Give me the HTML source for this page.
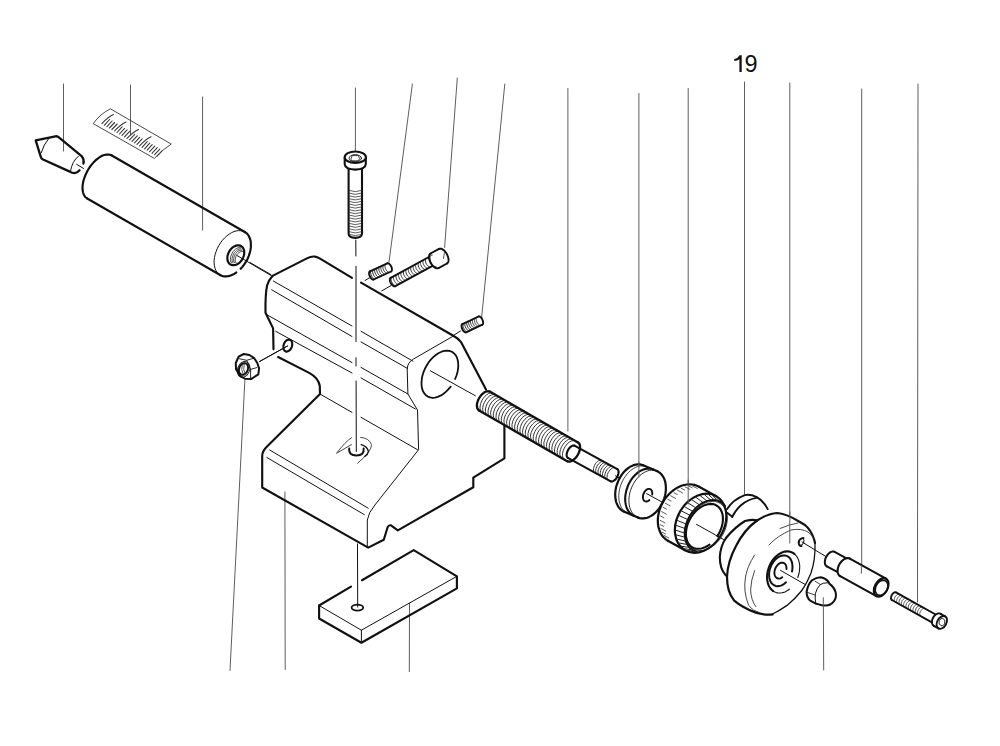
<!DOCTYPE html>
<html><head><meta charset="utf-8"><style>html,body{margin:0;padding:0;background:#fff;}svg{display:block}</style></head>
<body><svg width="1000" height="746" viewBox="0 0 1000 746" stroke-linecap="round" stroke-linejoin="round">
<rect width="1000" height="746" fill="#fff"/>
<line x1="63.5" y1="84" x2="63.5" y2="151" stroke="#5e5e5e" stroke-width="1.0"/>
<line x1="130.5" y1="85" x2="130.5" y2="135" stroke="#5e5e5e" stroke-width="1.0"/>
<line x1="202.6" y1="97" x2="202.6" y2="230" stroke="#5e5e5e" stroke-width="1.0"/>
<line x1="355.4" y1="88" x2="355.4" y2="152" stroke="#5e5e5e" stroke-width="1.0"/>
<line x1="412.4" y1="84" x2="389" y2="262" stroke="#5e5e5e" stroke-width="1.0"/>
<line x1="457.3" y1="78" x2="444.6" y2="247.5" stroke="#5e5e5e" stroke-width="1.0"/>
<line x1="504.8" y1="84" x2="481.6" y2="318" stroke="#5e5e5e" stroke-width="1.0"/>
<line x1="567.9" y1="88.5" x2="567.9" y2="431" stroke="#5e5e5e" stroke-width="1.0"/>
<line x1="638.9" y1="93.5" x2="638.9" y2="477" stroke="#5e5e5e" stroke-width="1.0"/>
<line x1="688.2" y1="88.5" x2="688.2" y2="504" stroke="#5e5e5e" stroke-width="1.0"/>
<line x1="744.5" y1="82" x2="744.5" y2="494" stroke="#5e5e5e" stroke-width="1.0"/>
<line x1="789.8" y1="83" x2="789.8" y2="542" stroke="#5e5e5e" stroke-width="1.0"/>
<line x1="861.7" y1="89" x2="861.7" y2="573" stroke="#5e5e5e" stroke-width="1.0"/>
<line x1="918" y1="84" x2="917.5" y2="602" stroke="#5e5e5e" stroke-width="1.0"/>
<line x1="244.9" y1="380" x2="230" y2="670.5" stroke="#5e5e5e" stroke-width="1.0"/>
<line x1="284.9" y1="492" x2="285.2" y2="669.5" stroke="#5e5e5e" stroke-width="1.0"/>
<line x1="409.5" y1="603" x2="409.3" y2="671.7" stroke="#5e5e5e" stroke-width="1.0"/>
<line x1="823.3" y1="597.7" x2="823.7" y2="670" stroke="#5e5e5e" stroke-width="1.0"/>
<text x="744.6" y="72" font-family="Liberation Sans, sans-serif" font-size="23.5" fill="#111">9</text>
<path d="M739.4,55.2 L741.7,55.2 L741.7,72 L739.4,72 L739.4,59.2 Q737.5,60.6 734.3,61 L734.3,58.9 Q738.2,58.2 739.4,55.2 Z" fill="#111" stroke="none"/>
<path d="M83.4,163.6 Q84.4,159.3 81.9,156.4 L59.5,137.8 Q57.5,136 55.4,136.3 L35.7,140.3 L40.8,156.8 Q41,158.3 42.5,159.2 L69.8,171.6 Q72,173 74.5,173.1 Q77.5,172.8 79.5,170.3" stroke="#111" stroke-width="2.3" fill="none" />
<path d="M48.9,138.3 Q43.5,144.5 41.2,152.8" stroke="#111" stroke-width="1.0" fill="none" />
<path d="M78.3,156.3 Q72,161.5 70.6,170.8" stroke="#111" stroke-width="1.0" fill="none" />
<line x1="76.7" y1="164.4" x2="83.5" y2="168.4" stroke="#111" stroke-width="1.0"/>
<path d="M93.4,123.3 Q100,114 110.4,108.8 L171.2,144.1 Q162,150 154.6,158.1 Z" stroke="#333" stroke-width="0.9" fill="none" />
<path d="M101.9,123.6 Q107.9,117.1 113.4,114.6" stroke="#3a3a3a" stroke-width="1.1" fill="none" />
<line x1="104.4" y1="125.1" x2="109.6" y2="119.5" stroke="#3a3a3a" stroke-width="1.1"/>
<line x1="106.9" y1="126.6" x2="112.1" y2="121" stroke="#3a3a3a" stroke-width="1.1"/>
<line x1="109.4" y1="128" x2="114.6" y2="122.5" stroke="#3a3a3a" stroke-width="1.1"/>
<line x1="111.9" y1="129.5" x2="117.1" y2="124" stroke="#3a3a3a" stroke-width="1.1"/>
<path d="M114.5,131.0 Q120.5,124.5 126.0,122.0" stroke="#3a3a3a" stroke-width="1.1" fill="none" />
<line x1="117" y1="132.5" x2="122.1" y2="126.9" stroke="#3a3a3a" stroke-width="1.1"/>
<line x1="119.5" y1="134" x2="124.6" y2="128.4" stroke="#3a3a3a" stroke-width="1.1"/>
<line x1="122" y1="135.4" x2="127.1" y2="129.9" stroke="#3a3a3a" stroke-width="1.1"/>
<line x1="124.5" y1="136.9" x2="129.7" y2="131.4" stroke="#3a3a3a" stroke-width="1.1"/>
<path d="M127.0,138.4 Q133.0,131.9 138.5,129.4" stroke="#3a3a3a" stroke-width="1.1" fill="none" />
<line x1="129.5" y1="139.9" x2="134.7" y2="134.3" stroke="#3a3a3a" stroke-width="1.1"/>
<line x1="132" y1="141.4" x2="137.2" y2="135.8" stroke="#3a3a3a" stroke-width="1.1"/>
<line x1="134.5" y1="142.8" x2="139.7" y2="137.3" stroke="#3a3a3a" stroke-width="1.1"/>
<line x1="137" y1="144.3" x2="142.2" y2="138.8" stroke="#3a3a3a" stroke-width="1.1"/>
<path d="M139.6,145.8 Q145.6,139.3 151.1,136.8" stroke="#3a3a3a" stroke-width="1.1" fill="none" />
<line x1="142.1" y1="147.3" x2="147.2" y2="141.7" stroke="#3a3a3a" stroke-width="1.1"/>
<line x1="144.6" y1="148.8" x2="149.7" y2="143.2" stroke="#3a3a3a" stroke-width="1.1"/>
<line x1="147.1" y1="150.2" x2="152.2" y2="144.7" stroke="#3a3a3a" stroke-width="1.1"/>
<line x1="149.6" y1="151.7" x2="154.8" y2="146.2" stroke="#3a3a3a" stroke-width="1.1"/>
<line x1="152.1" y1="153.2" x2="157.3" y2="147.7" stroke="#3a3a3a" stroke-width="1.1"/>
<line x1="154.6" y1="154.7" x2="159.8" y2="149.1" stroke="#3a3a3a" stroke-width="1.1"/>
<line x1="157.1" y1="156.2" x2="162.3" y2="150.6" stroke="#3a3a3a" stroke-width="1.1"/>
<line x1="111.8" y1="155.5" x2="244.8" y2="232" stroke="#111" stroke-width="2.15"/>
<line x1="87.2" y1="198.5" x2="220.2" y2="275" stroke="#111" stroke-width="2.15"/>
<path d="M111.8,155.5 L110.2,154.8 L108.4,154.5 L106.4,154.6 L104.3,155 L102.1,155.8 L99.9,157 L97.7,158.6 L95.5,160.4 L93.4,162.6 L91.4,164.9 L89.5,167.5 L87.8,170.3 L86.3,173.2 L85,176.1 L84,179 L83.2,181.9 L82.7,184.8 L82.5,187.5 L82.6,190 L83,192.3 L83.6,194.3 L84.6,196.1 L85.8,197.5 L87.2,198.5" stroke="#111" stroke-width="2.15" fill="none" />
<path d="M244.8,232 L246.4,233.1 L247.8,234.5 L248.9,236.2 L249.8,238.2 L250.5,240.3 L250.8,242.7 L250.9,245.3 L250.8,247.9 L250.3,250.7 L249.6,253.4 L248.7,256.2 L247.5,259 L246,261.6 L244.4,264.2 L242.6,266.6 L240.7,268.8" stroke="#111" stroke-width="2.15" fill="none" />
<path d="M236.3,272.5 L234.6,273.6 L232.9,274.6 L231.2,275.3 L229.4,275.9 L227.7,276.2 L226.1,276.4 L224.5,276.4 L223,276.1 L221.5,275.7 L220.2,275" stroke="#111" stroke-width="2.15" fill="none" />
<path d="M244.8,232 L242.9,231.1 L240.9,230.7 L238.6,230.6 L236.3,230.9 L233.9,231.6 L231.5,232.7 L229.1,234.2 L226.8,235.9 L224.5,238 L222.4,240.3 L220.5,242.9 L218.8,245.6 L217.3,248.5 L216.1,251.5 L215.1,254.5 L214.5,257.5 L214.1,260.4 L214.1,263.2 L214.4,265.8 L215,268.2 L215.9,270.4 L217,272.3 L218.5,273.8 L220.2,275" stroke="#111" stroke-width="1.0" fill="none" />
<path d="M241.1,246.1 L242.1,246.8 L242.9,247.7 L243.5,248.8 L244,250.1 L244.2,251.5 L244.2,253 L244.1,254.5 L243.7,256.1 L243.1,257.6 L242.4,259.1 L241.5,260.5 L240.4,261.8 L239.3,262.9 L238,263.8 L236.7,264.5 L235.4,265 L234.1,265.2 L232.8,265.2 L231.6,265 L230.5,264.5 L229.5,263.8 L228.7,262.9 L228.1,261.8 L227.6,260.5 L227.4,259.1 L227.4,257.6 L227.5,256.1 L227.9,254.5 L228.5,253 L229.2,251.5 L230.1,250.1 L231.2,248.8 L232.3,247.7 L233.6,246.8 L234.9,246.1 L236.2,245.6 L237.5,245.4 L238.8,245.4 L240,245.6 L241.1,246.1" stroke="#111" stroke-width="2.2" fill="none" />
<path d="M240.4,247.7 L239.3,247.6 L238,247.9 L236.7,248.4 L235.5,249.2 L234.2,250.3 L233.1,251.6 L232.2,253.1 L231.4,254.7 L230.8,256.3 L230.5,257.9 L230.4,259.4 L230.6,260.8 L231,262 L231.6,263" stroke="#333" stroke-width="0.9" fill="none" />
<path d="M241.1,249 L240.1,248.9 L238.9,249.1 L237.8,249.6 L236.6,250.4 L235.5,251.4 L234.5,252.6 L233.6,253.9 L232.9,255.3 L232.4,256.8 L232.1,258.3 L232,259.7 L232.1,260.9 L232.5,262 L233.1,262.9" stroke="#333" stroke-width="0.9" fill="none" />
<path d="M241.8,250.3 L240.9,250.2 L239.8,250.4 L238.8,250.8 L237.7,251.5 L236.7,252.4 L235.8,253.5 L235,254.7 L234.4,256 L233.9,257.3 L233.6,258.6 L233.6,259.9 L233.7,261 L234.1,262 L234.6,262.8" stroke="#333" stroke-width="0.9" fill="none" />
<path d="M242.5,251.5 L241.7,251.5 L240.8,251.7 L239.8,252.1 L238.9,252.7 L238,253.5 L237.2,254.4 L236.4,255.5 L235.9,256.7 L235.5,257.8 L235.2,259 L235.2,260.1 L235.3,261.2 L235.6,262 L236.1,262.7" stroke="#333" stroke-width="0.9" fill="none" />
<line x1="237" y1="255.5" x2="271" y2="275.5" stroke="#111" stroke-width="1.0"/>
<line x1="250" y1="262.5" x2="271" y2="274.6" stroke="#111" stroke-width="1.0"/>
<path d="M344.7,157.5 L344.7,164 Q344.9,169.2 355.3,169.6 Q365.6,169.2 365.8,164 L365.8,157.5" stroke="#111" stroke-width="2.1" fill="none" />
<ellipse cx="355.3" cy="157.2" rx="10.6" ry="5.7" transform="rotate(0 355.3 157.2)" stroke="#111" stroke-width="2.1" fill="#fff"/>
<ellipse cx="355.3" cy="158.2" rx="6.2" ry="3.6" transform="rotate(0 355.3 158.2)" stroke="#111" stroke-width="0.9" fill="none"/>
<polygon points="351,158.8 352.2,155.6 358.4,155.6 359.6,158.8 358.4,160.8 352.2,160.8" stroke="#111" stroke-width="0.8" fill="none" stroke-linejoin="round"/>
<path d="M348.6,169.4 L348.6,233.8 Q348.8,237.6 355.3,237.9 Q361.8,237.6 362,233.8 L362,169.4" stroke="#111" stroke-width="2.1" fill="none" />
<path d="M349.3,190.5 Q355.3,192.9 361.3,190.5" stroke="#333" stroke-width="0.8" fill="none" />
<path d="M349.3,193.2 Q355.3,195.7 361.3,193.2" stroke="#333" stroke-width="0.8" fill="none" />
<path d="M349.3,196.0 Q355.3,198.4 361.3,196.0" stroke="#333" stroke-width="0.8" fill="none" />
<path d="M349.3,198.8 Q355.3,201.2 361.3,198.8" stroke="#333" stroke-width="0.8" fill="none" />
<path d="M349.3,201.5 Q355.3,203.9 361.3,201.5" stroke="#333" stroke-width="0.8" fill="none" />
<path d="M349.3,204.2 Q355.3,206.7 361.3,204.2" stroke="#333" stroke-width="0.8" fill="none" />
<path d="M349.3,207.0 Q355.3,209.4 361.3,207.0" stroke="#333" stroke-width="0.8" fill="none" />
<path d="M349.3,209.8 Q355.3,212.2 361.3,209.8" stroke="#333" stroke-width="0.8" fill="none" />
<path d="M349.3,212.5 Q355.3,214.9 361.3,212.5" stroke="#333" stroke-width="0.8" fill="none" />
<path d="M349.3,215.2 Q355.3,217.7 361.3,215.2" stroke="#333" stroke-width="0.8" fill="none" />
<path d="M349.3,218.0 Q355.3,220.4 361.3,218.0" stroke="#333" stroke-width="0.8" fill="none" />
<path d="M349.3,220.8 Q355.3,223.2 361.3,220.8" stroke="#333" stroke-width="0.8" fill="none" />
<path d="M349.3,223.5 Q355.3,225.9 361.3,223.5" stroke="#333" stroke-width="0.8" fill="none" />
<path d="M349.3,226.2 Q355.3,228.7 361.3,226.2" stroke="#333" stroke-width="0.8" fill="none" />
<path d="M349.3,229.0 Q355.3,231.4 361.3,229.0" stroke="#333" stroke-width="0.8" fill="none" />
<path d="M349.3,231.8 Q355.3,234.2 361.3,231.8" stroke="#333" stroke-width="0.8" fill="none" />
<path d="M349.3,234.5 Q355.3,236.9 361.3,234.5" stroke="#333" stroke-width="0.8" fill="none" />
<line x1="355.8" y1="240" x2="355.9" y2="256" stroke="#111" stroke-width="1.0"/>
<line x1="356" y1="266.3" x2="356" y2="341.7" stroke="#111" stroke-width="1.0"/>
<line x1="356" y1="357.7" x2="356" y2="366" stroke="#111" stroke-width="1.0"/>
<line x1="356.1" y1="381" x2="356.3" y2="451.5" stroke="#111" stroke-width="1.0"/>
<line x1="357.5" y1="544" x2="357.7" y2="607" stroke="#111" stroke-width="1.0"/>
<path d="M272.5,275.9 L306.9,258.4 Q311,256.2 315,256.6 Q318,257.2 320.5,258.8 L352,277.8" stroke="#111" stroke-width="2.15" fill="none" />
<path d="M361,282.6 L452.9,335.5 Q458.5,338.5 461,342 L486,389.5" stroke="#111" stroke-width="2.15" fill="none" />
<path d="M272.5,275.9 Q268.5,280 267.1,285.5 Q265.2,294 265.5,312.7 L273.1,328.4 L273.5,349.3" stroke="#111" stroke-width="2.15" fill="none" />
<path d="M278.1,357 L309.2,372.9 Q318.6,378 319.8,386 L320,394 L267.5,446 Q262.2,451 262.2,456 L262.2,487.5 L368.2,547.6 L383.8,539.7 L387.6,527.2 Q388.8,524.8 391,525.4 L397.8,530.4 L473.3,487.2 L473.3,477.6 L504.4,458.3 L504.4,425.5" stroke="#111" stroke-width="2.15" fill="none" />
<path d="M452.9,336.3 L413.5,359 Q407.5,362.5 407.2,369 L407.9,394 L417.5,410 L418.6,449.7 L374.9,505 Q368.5,512.5 367.3,520 L367.3,545.7" stroke="#111" stroke-width="1.0" fill="none" />
<path d="M462,388 Q460,408 446,396.5" stroke="#111" stroke-width="0" fill="none" />
<path d="M450.7,386.6 L448.3,389.4 L445.8,391.9 L443.2,394 L440.5,395.7 L437.7,396.9 L435.1,397.6 L432.5,397.8 L430.1,397.4 L427.9,396.6 L425.9,395.2 L424.3,393.4 L423,391.2 L422.1,388.6 L421.6,385.7 L421.5,382.5 L421.8,379.2 L422.4,375.7 L423.5,372.2 L424.9,368.8 L426.7,365.5 L428.7,362.3 L431,359.4 L433.5,356.9 L436.1,354.7 L438.8,353 L441.6,351.7 L444.3,350.9 L446.9,350.6 L449.3,350.9 L451.6,351.6 L453.5,352.9 L455.2,354.6 L456.6,356.8 L457.5,359.3 L458.1,362.2 L458.3,365.3 L458.1,368.6 L457.5,372 L456.5,375.5 L455.1,379" stroke="#111" stroke-width="1.8" fill="none" />
<line x1="430.4" y1="370.8" x2="475.4" y2="395.8" stroke="#111" stroke-width="1.0"/>
<line x1="273.3" y1="281" x2="352" y2="326" stroke="#111" stroke-width="1.0"/>
<line x1="361" y1="331.3" x2="413" y2="361.2" stroke="#111" stroke-width="1.0"/>
<line x1="271.7" y1="289.8" x2="352" y2="336.5" stroke="#111" stroke-width="1.0"/>
<line x1="361" y1="341.9" x2="407.5" y2="368.5" stroke="#111" stroke-width="1.0"/>
<line x1="266.5" y1="314.5" x2="352" y2="362.6" stroke="#111" stroke-width="1.0"/>
<line x1="361" y1="367.4" x2="407.9" y2="394" stroke="#111" stroke-width="1.0"/>
<line x1="275.7" y1="331.3" x2="352" y2="373" stroke="#111" stroke-width="1.0"/>
<line x1="361" y1="377.9" x2="415.4" y2="409" stroke="#111" stroke-width="1.0"/>
<line x1="320" y1="394" x2="352" y2="412.4" stroke="#111" stroke-width="1.0"/>
<line x1="361" y1="417.3" x2="417.5" y2="449.7" stroke="#111" stroke-width="1.0"/>
<line x1="269.7" y1="450" x2="368.2" y2="508.2" stroke="#111" stroke-width="1.0"/>
<line x1="266.9" y1="457.5" x2="364.4" y2="514.7" stroke="#111" stroke-width="1.0"/>
<ellipse cx="287.8" cy="345.6" rx="4.2" ry="6.2" transform="rotate(20 287.8 345.6)" stroke="#111" stroke-width="2.15" fill="none"/>
<line x1="287.5" y1="346" x2="259.6" y2="361.5" stroke="#111" stroke-width="1.0"/>
<path d="M371.8,270.5 L371.3,270.7 L370.9,271.2 L370.6,271.9 L370.6,272.9 L370.8,273.9 L371.1,275 L371.6,276.1 L372.2,277 L372.9,277.9 L373.6,278.5 L374.3,278.8 L374.9,278.9" stroke="#333" stroke-width="1.0" fill="none" />
<path d="M373.8,269.6 L373.3,269.8 L372.9,270.3 L372.7,271 L372.7,271.9 L372.8,273 L373.1,274 L373.6,275.1 L374.2,276.1 L374.9,276.9 L375.6,277.5 L376.3,277.9 L376.9,277.9" stroke="#333" stroke-width="1.0" fill="none" />
<path d="M375.9,268.6 L375.3,268.8 L375,269.3 L374.7,270.1 L374.7,271 L374.8,272 L375.2,273.1 L375.7,274.2 L376.3,275.2 L376.9,276 L377.7,276.6 L378.4,276.9 L379,277" stroke="#333" stroke-width="1.0" fill="none" />
<path d="M377.9,267.7 L377.4,267.9 L377,268.4 L376.8,269.1 L376.7,270 L376.9,271.1 L377.2,272.2 L377.7,273.2 L378.3,274.2 L379,275 L379.7,275.6 L380.4,276 L381,276" stroke="#333" stroke-width="1.0" fill="none" />
<path d="M380,266.8 L379.4,267 L379,267.5 L378.8,268.2 L378.8,269.1 L378.9,270.1 L379.3,271.2 L379.7,272.3 L380.3,273.3 L381,274.1 L381.7,274.7 L382.4,275 L383.1,275.1" stroke="#333" stroke-width="1.0" fill="none" />
<path d="M382,265.8 L381.5,266 L381.1,266.5 L380.9,267.2 L380.8,268.2 L381,269.2 L381.3,270.3 L381.8,271.4 L382.4,272.3 L383.1,273.2 L383.8,273.8 L384.5,274.1 L385.1,274.2" stroke="#333" stroke-width="1.0" fill="none" />
<path d="M384.1,264.9 L383.5,265.1 L383.1,265.6 L382.9,266.3 L382.9,267.2 L383,268.3 L383.4,269.3 L383.8,270.4 L384.4,271.4 L385.1,272.2 L385.8,272.8 L386.5,273.2 L387.2,273.2" stroke="#333" stroke-width="1.0" fill="none" />
<path d="M386.1,263.9 L385.6,264.1 L385.2,264.6 L385,265.4 L384.9,266.3 L385.1,267.3 L385.4,268.4 L385.9,269.5 L386.5,270.5 L387.2,271.3 L387.9,271.9 L388.6,272.2 L389.2,272.3" stroke="#333" stroke-width="1.0" fill="none" />
<line x1="369.9" y1="271.3" x2="387.3" y2="263.3" stroke="#111" stroke-width="1.9"/>
<line x1="373.7" y1="279.5" x2="391.1" y2="271.5" stroke="#111" stroke-width="1.9"/>
<path d="M369.9,271.3 L369.6,271.5 L369.4,271.8 L369.2,272.2 L369.1,272.6 L369.1,273.2 L369.1,273.7 L369.2,274.4 L369.3,275 L369.5,275.7 L369.8,276.3 L370.1,276.9 L370.5,277.5 L370.9,278.1 L371.3,278.5 L371.7,278.9 L372.1,279.2 L372.6,279.5 L373,279.6 L373.3,279.6 L373.7,279.5" stroke="#111" stroke-width="1.9" fill="none" />
<path d="M387.3,263.3 L387.7,263.2 L388,263.2 L388.4,263.3 L388.9,263.6 L389.3,263.9 L389.7,264.3 L390.1,264.7 L390.5,265.3 L390.9,265.9 L391.2,266.5 L391.5,267.1 L391.7,267.8 L391.8,268.4 L391.9,269.1 L391.9,269.6 L391.9,270.2 L391.8,270.6 L391.6,271 L391.4,271.3 L391.1,271.5" stroke="#111" stroke-width="1.9" fill="none" />
<line x1="365" y1="280.5" x2="369.5" y2="277.8" stroke="#111" stroke-width="1.0"/>
<path d="M464.1,323.4 L463.6,323.6 L463.2,324.1 L463,324.8 L463,325.7 L463.1,326.8 L463.5,327.8 L464,328.9 L464.6,329.9 L465.3,330.7 L466,331.3 L466.7,331.6 L467.3,331.7" stroke="#333" stroke-width="1.0" fill="none" />
<path d="M466,322.5 L465.5,322.7 L465.1,323.2 L464.9,323.9 L464.9,324.8 L465,325.9 L465.4,327 L465.9,328 L466.5,329 L467.2,329.8 L467.9,330.4 L468.6,330.7 L469.2,330.8" stroke="#333" stroke-width="1.0" fill="none" />
<path d="M467.9,321.6 L467.4,321.8 L467,322.3 L466.8,323 L466.8,323.9 L466.9,325 L467.3,326.1 L467.7,327.1 L468.4,328.1 L469.1,328.9 L469.8,329.5 L470.5,329.8 L471.1,329.9" stroke="#333" stroke-width="1.0" fill="none" />
<path d="M469.8,320.7 L469.3,320.9 L468.9,321.4 L468.7,322.1 L468.7,323 L468.8,324.1 L469.1,325.2 L469.6,326.2 L470.3,327.2 L470.9,328 L471.7,328.6 L472.4,329 L473,329" stroke="#333" stroke-width="1.0" fill="none" />
<path d="M471.7,319.8 L471.2,320 L470.8,320.5 L470.6,321.2 L470.5,322.1 L470.7,323.2 L471,324.3 L471.5,325.3 L472.1,326.3 L472.8,327.1 L473.6,327.7 L474.3,328.1 L474.9,328.1" stroke="#333" stroke-width="1.0" fill="none" />
<path d="M473.6,318.9 L473.1,319.1 L472.7,319.6 L472.5,320.3 L472.4,321.3 L472.6,322.3 L472.9,323.4 L473.4,324.4 L474,325.4 L474.7,326.2 L475.4,326.8 L476.2,327.2 L476.8,327.2" stroke="#333" stroke-width="1.0" fill="none" />
<path d="M475.5,318 L474.9,318.2 L474.6,318.7 L474.4,319.4 L474.3,320.4 L474.5,321.4 L474.8,322.5 L475.3,323.6 L475.9,324.5 L476.6,325.3 L477.3,325.9 L478,326.3 L478.7,326.3" stroke="#333" stroke-width="1.0" fill="none" />
<path d="M477.4,317.1 L476.8,317.3 L476.5,317.8 L476.2,318.6 L476.2,319.5 L476.4,320.5 L476.7,321.6 L477.2,322.7 L477.8,323.6 L478.5,324.4 L479.2,325 L479.9,325.4 L480.6,325.4" stroke="#333" stroke-width="1.0" fill="none" />
<line x1="462.4" y1="324.1" x2="478.5" y2="316.5" stroke="#111" stroke-width="1.9"/>
<line x1="466.2" y1="332.3" x2="482.3" y2="324.7" stroke="#111" stroke-width="1.9"/>
<path d="M462.4,324.1 L462.1,324.3 L461.9,324.6 L461.7,325 L461.6,325.5 L461.5,326 L461.6,326.6 L461.7,327.2 L461.8,327.8 L462,328.5 L462.3,329.1 L462.6,329.8 L463,330.4 L463.4,330.9 L463.8,331.4 L464.3,331.7 L464.7,332 L465.1,332.3 L465.5,332.4 L465.9,332.4 L466.2,332.3" stroke="#111" stroke-width="1.9" fill="none" />
<path d="M478.5,316.5 L478.8,316.4 L479.2,316.4 L479.6,316.5 L480,316.8 L480.4,317.1 L480.9,317.4 L481.3,317.9 L481.7,318.4 L482.1,319 L482.4,319.7 L482.7,320.3 L482.9,321 L483,321.6 L483.1,322.2 L483.2,322.8 L483.1,323.3 L483,323.8 L482.8,324.2 L482.6,324.5 L482.3,324.7" stroke="#111" stroke-width="1.9" fill="none" />
<line x1="452.5" y1="336" x2="460.5" y2="331" stroke="#111" stroke-width="1.0"/>
<path d="M392.3,277 L391.7,277.3 L391.3,277.8 L391.1,278.6 L391.1,279.6 L391.3,280.7 L391.7,281.9 L392.3,283 L393,284 L393.8,284.8 L394.7,285.4 L395.5,285.7 L396.2,285.7" stroke="#333" stroke-width="1.0" fill="none" />
<path d="M394.7,275.6 L394.2,275.9 L393.7,276.5 L393.5,277.3 L393.5,278.3 L393.7,279.4 L394.2,280.5 L394.8,281.7 L395.5,282.6 L396.3,283.5 L397.1,284 L397.9,284.3 L398.6,284.3" stroke="#333" stroke-width="1.0" fill="none" />
<path d="M397.2,274.3 L396.6,274.6 L396.2,275.2 L396,276 L396,277 L396.2,278.1 L396.6,279.2 L397.2,280.3 L397.9,281.3 L398.7,282.1 L399.6,282.7 L400.4,283 L401.1,283" stroke="#333" stroke-width="1.0" fill="none" />
<path d="M399.6,273 L399.1,273.3 L398.6,273.8 L398.4,274.6 L398.4,275.6 L398.7,276.7 L399.1,277.9 L399.7,279 L400.4,280 L401.2,280.8 L402,281.4 L402.8,281.7 L403.5,281.7" stroke="#333" stroke-width="1.0" fill="none" />
<path d="M402.1,271.6 L401.5,271.9 L401.1,272.5 L400.9,273.3 L400.9,274.3 L401.1,275.4 L401.5,276.5 L402.1,277.6 L402.8,278.6 L403.6,279.4 L404.5,280 L405.3,280.3 L406,280.3" stroke="#333" stroke-width="1.0" fill="none" />
<path d="M404.6,270.3 L404,270.6 L403.6,271.2 L403.3,272 L403.3,273 L403.6,274.1 L404,275.2 L404.6,276.3 L405.3,277.3 L406.1,278.1 L406.9,278.7 L407.7,279 L408.4,279" stroke="#333" stroke-width="1.0" fill="none" />
<path d="M407,269 L406.4,269.3 L406,269.8 L405.8,270.6 L405.8,271.6 L406,272.7 L406.4,273.9 L407,275 L407.7,276 L408.5,276.8 L409.4,277.3 L410.2,277.7 L410.9,277.7" stroke="#333" stroke-width="1.0" fill="none" />
<path d="M409.5,267.6 L408.9,267.9 L408.5,268.5 L408.2,269.3 L408.3,270.3 L408.5,271.4 L408.9,272.5 L409.5,273.6 L410.2,274.6 L411,275.4 L411.8,276 L412.6,276.3 L413.3,276.3" stroke="#333" stroke-width="1.0" fill="none" />
<path d="M411.9,266.3 L411.3,266.6 L410.9,267.1 L410.7,268 L410.7,268.9 L410.9,270 L411.3,271.2 L411.9,272.3 L412.6,273.3 L413.4,274.1 L414.3,274.7 L415.1,275 L415.8,275" stroke="#333" stroke-width="1.0" fill="none" />
<path d="M414.4,265 L413.8,265.2 L413.4,265.8 L413.2,266.6 L413.2,267.6 L413.4,268.7 L413.8,269.9 L414.4,271 L415.1,271.9 L415.9,272.8 L416.7,273.3 L417.5,273.6 L418.2,273.6" stroke="#333" stroke-width="1.0" fill="none" />
<path d="M416.8,263.6 L416.2,263.9 L415.8,264.5 L415.6,265.3 L415.6,266.3 L415.8,267.4 L416.2,268.5 L416.8,269.6 L417.6,270.6 L418.4,271.4 L419.2,272 L420,272.3 L420.7,272.3" stroke="#333" stroke-width="1.0" fill="none" />
<path d="M419.3,262.3 L418.7,262.6 L418.3,263.1 L418.1,263.9 L418.1,264.9 L418.3,266 L418.7,267.2 L419.3,268.3 L420,269.3 L420.8,270.1 L421.6,270.7 L422.4,271 L423.2,271" stroke="#333" stroke-width="1.0" fill="none" />
<path d="M421.7,260.9 L421.1,261.2 L420.7,261.8 L420.5,262.6 L420.5,263.6 L420.7,264.7 L421.2,265.8 L421.7,266.9 L422.5,267.9 L423.3,268.8 L424.1,269.3 L424.9,269.6 L425.6,269.6" stroke="#333" stroke-width="1.0" fill="none" />
<path d="M424.2,259.6 L423.6,259.9 L423.2,260.5 L423,261.3 L423,262.3 L423.2,263.4 L423.6,264.5 L424.2,265.6 L424.9,266.6 L425.7,267.4 L426.5,268 L427.3,268.3 L428.1,268.3" stroke="#333" stroke-width="1.0" fill="none" />
<path d="M426.6,258.3 L426,258.6 L425.6,259.1 L425.4,259.9 L425.4,260.9 L425.6,262 L426.1,263.2 L426.6,264.3 L427.4,265.3 L428.2,266.1 L429,266.7 L429.8,267 L430.5,267" stroke="#333" stroke-width="1.0" fill="none" />
<line x1="390.7" y1="277.8" x2="430.7" y2="256" stroke="#111" stroke-width="1.9"/>
<line x1="395.3" y1="286.2" x2="435.3" y2="264.4" stroke="#111" stroke-width="1.9"/>
<path d="M390.7,277.8 L390.4,278 L390.1,278.4 L390,278.8 L389.9,279.3 L389.8,279.9 L389.9,280.5 L390,281.2 L390.2,281.8 L390.5,282.5 L390.8,283.2 L391.2,283.8 L391.6,284.4 L392.1,285 L392.6,285.4 L393.1,285.8 L393.6,286.1 L394.1,286.3 L394.5,286.4 L394.9,286.3 L395.3,286.2" stroke="#111" stroke-width="1.9" fill="none" />
<line x1="381.7" y1="290.9" x2="391" y2="285.6" stroke="#111" stroke-width="1.0"/>
<polygon points="430.5,253.5 430,253.9 429.5,254.5 429.2,255.2 429,256.1 429,257.1 429,258.2 429.3,259.4 429.6,260.5 430.1,261.7 430.6,262.9 431.3,264 432,265 432.8,266 433.7,266.8 434.6,267.4 435.4,267.9 436.3,268.3 437.1,268.4 437.8,268.3 438.5,268.1 447,263.5 447.5,263.1 448,262.5 448.3,261.8 448.5,260.9 448.5,259.9 448.5,258.8 448.2,257.6 447.9,256.5 447.4,255.3 446.9,254.1 446.2,253 445.5,252 444.7,251 443.8,250.2 442.9,249.6 442.1,249.1 441.2,248.7 440.4,248.6 439.7,248.7 439,248.9" fill="#fff" stroke="none"/>
<line x1="430.5" y1="253.5" x2="439" y2="248.9" stroke="#111" stroke-width="1.9"/>
<line x1="438.5" y1="268.1" x2="447" y2="263.5" stroke="#111" stroke-width="1.9"/>
<path d="M430.5,253.5 L430,253.9 L429.5,254.5 L429.2,255.2 L429,256.1 L429,257.1 L429,258.2 L429.3,259.4 L429.6,260.5 L430.1,261.7 L430.6,262.9 L431.3,264 L432,265 L432.8,266 L433.7,266.8 L434.6,267.4 L435.4,267.9 L436.3,268.3 L437.1,268.4 L437.8,268.3 L438.5,268.1" stroke="#111" stroke-width="1.9" fill="none" />
<path d="M439,248.9 L439.7,248.7 L440.4,248.6 L441.2,248.7 L442.1,249.1 L442.9,249.6 L443.8,250.2 L444.7,251 L445.5,252 L446.2,253 L446.9,254.1 L447.4,255.3 L447.9,256.5 L448.2,257.6 L448.5,258.8 L448.5,259.9 L448.5,260.9 L448.3,261.8 L448,262.5 L447.5,263.1 L447,263.5" stroke="#111" stroke-width="1.9" fill="none" />
<path d="M432.1,255.1 L431.6,255.1 L431.1,255.3 L430.6,255.6 L430.3,256.1 L430.1,256.7 L429.9,257.4 L429.9,258.2 L430,259 L430.2,259.9 L430.4,260.9 L430.8,261.8 L431.3,262.7 L431.8,263.6 L432.4,264.4 L433,265.1 L433.7,265.7 L434.3,266.2 L435,266.6 L435.7,266.8 L436.3,266.9" stroke="#111" stroke-width="1.0" fill="none" />
<line x1="444.5" y1="252.5" x2="443.5" y2="258.5" stroke="#111" stroke-width="0.7"/>
<polygon points="235.8,363 238.6,356.6 243.8,354 249.4,355 254.2,358.2 257.2,362.8 259.1,368.4 258.3,374.4 251,379.1 244.8,378.7 240.2,376 236,369.2" stroke="#111" stroke-width="2.0" fill="#fff" stroke-linejoin="round"/>
<path d="M239.2,358.7 L246.6,360.3 L254,358.2 M246.6,360.3 L250.6,369.4 L256.8,367.6 M250.6,369.4 L250.6,378.8" stroke="#111" stroke-width="0.9" fill="none" />
<ellipse cx="243.6" cy="369.4" rx="6" ry="8.2" transform="rotate(22 243.6 369.4)" stroke="#111" stroke-width="0.9" fill="none"/>
<ellipse cx="243.5" cy="369" rx="4.4" ry="6" transform="rotate(22 243.5 369)" stroke="#111" stroke-width="2.0" fill="none"/>
<path d="M242.2,365.5 Q240.8,369.5 243,373.5 M244.2,364.6 Q242.6,369.5 245.2,373.8" stroke="#333" stroke-width="0.8" fill="none" />
<line x1="259.6" y1="361.5" x2="287.5" y2="346" stroke="#111" stroke-width="1.0"/>
<path d="M319.1,605.5 L319.1,618.5 L361.4,642.7 L456.9,588.4 L456.9,576.3 L413.7,550.1 L362,580.2" stroke="#111" stroke-width="2.15" fill="none" />
<path d="M351,586.6 L319.1,605.5" stroke="#111" stroke-width="2.15" fill="none" />
<path d="M319.1,605.5 L361.4,630.2 L456.9,576.3 M361.4,630.2 L361.4,642.7" stroke="#111" stroke-width="1.0" fill="none" />
<ellipse cx="357.4" cy="607.6" rx="5.8" ry="3" transform="rotate(0 357.4 607.6)" stroke="#111" stroke-width="1.8" fill="none"/>
<path d="M349.2,448.6 Q348.5,455.5 356.4,455.6 Q364.5,455.5 363.6,448.6" stroke="#111" stroke-width="2.0" fill="none" />
<path d="M351.5,437.7 Q345.5,441.5 336.5,453.3 L351.5,444.6" stroke="#333" stroke-width="0.9" fill="none" />
<path d="M360.6,437.4 Q369,438 371.5,444.5 Q372,451 357.6,463.3" stroke="#333" stroke-width="0.9" fill="none" />
<path d="M361.2,444.6 Q367.5,446.5 368.4,451.5 Q368,454.5 364.8,456.4" stroke="#111" stroke-width="1.4" fill="none" />
<path d="M493.6,394 L492.3,393.1 L490.6,393 L488.7,393.5 L486.8,394.6 L484.9,396.3 L483.2,398.4 L481.7,400.9 L480.7,403.4 L480.1,405.9 L480,408.2 L480.5,410.2 L481.4,411.6" stroke="#333" stroke-width="1.0" fill="none" />
<path d="M496.3,395.5 L494.9,394.7 L493.3,394.5 L491.4,395 L489.5,396.1 L487.5,397.8 L485.8,400 L484.4,402.4 L483.3,404.9 L482.8,407.5 L482.7,409.8 L483.1,411.7 L484,413.1" stroke="#333" stroke-width="1.0" fill="none" />
<path d="M498.9,397 L497.6,396.2 L495.9,396 L494.1,396.5 L492.1,397.7 L490.2,399.4 L488.5,401.5 L487,403.9 L486,406.5 L485.4,409 L485.4,411.3 L485.8,413.2 L486.7,414.7" stroke="#333" stroke-width="1.0" fill="none" />
<path d="M501.6,398.6 L500.2,397.7 L498.6,397.6 L496.7,398.1 L494.8,399.2 L492.9,400.9 L491.1,403 L489.7,405.4 L488.7,408 L488.1,410.5 L488,412.8 L488.5,414.8 L489.4,416.2" stroke="#333" stroke-width="1.0" fill="none" />
<path d="M504.2,400.1 L502.9,399.3 L501.3,399.1 L499.4,399.6 L497.4,400.7 L495.5,402.4 L493.8,404.6 L492.4,407 L491.3,409.5 L490.7,412.1 L490.7,414.4 L491.1,416.3 L492,417.7" stroke="#333" stroke-width="1.0" fill="none" />
<path d="M506.9,401.6 L505.6,400.8 L503.9,400.6 L502,401.1 L500.1,402.3 L498.2,404 L496.5,406.1 L495,408.5 L494,411.1 L493.4,413.6 L493.3,415.9 L493.8,417.8 L494.7,419.2" stroke="#333" stroke-width="1.0" fill="none" />
<path d="M509.6,403.2 L508.2,402.3 L506.6,402.2 L504.7,402.7 L502.8,403.8 L500.8,405.5 L499.1,407.6 L497.7,410 L496.6,412.6 L496.1,415.1 L496,417.4 L496.4,419.4 L497.3,420.8" stroke="#333" stroke-width="1.0" fill="none" />
<path d="M512.2,404.7 L510.9,403.9 L509.2,403.7 L507.4,404.2 L505.4,405.3 L503.5,407 L501.8,409.1 L500.3,411.6 L499.3,414.1 L498.7,416.6 L498.7,419 L499.1,420.9 L500,422.3" stroke="#333" stroke-width="1.0" fill="none" />
<path d="M514.9,406.2 L513.5,405.4 L511.9,405.2 L510,405.7 L508.1,406.9 L506.2,408.5 L504.4,410.7 L503,413.1 L502,415.7 L501.4,418.2 L501.3,420.5 L501.8,422.4 L502.7,423.8" stroke="#333" stroke-width="1.0" fill="none" />
<path d="M517.5,407.8 L516.2,406.9 L514.6,406.8 L512.7,407.3 L510.7,408.4 L508.8,410.1 L507.1,412.2 L505.7,414.6 L504.6,417.2 L504,419.7 L504,422 L504.4,423.9 L505.3,425.4" stroke="#333" stroke-width="1.0" fill="none" />
<path d="M520.2,409.3 L518.9,408.5 L517.2,408.3 L515.3,408.8 L513.4,409.9 L511.5,411.6 L509.8,413.7 L508.3,416.2 L507.3,418.7 L506.7,421.2 L506.6,423.5 L507.1,425.5 L508,426.9" stroke="#333" stroke-width="1.0" fill="none" />
<path d="M522.9,410.8 L521.5,410 L519.9,409.8 L518,410.3 L516.1,411.5 L514.1,413.1 L512.4,415.3 L511,417.7 L509.9,420.3 L509.4,422.8 L509.3,425.1 L509.7,427 L510.6,428.4" stroke="#333" stroke-width="1.0" fill="none" />
<path d="M525.5,412.4 L524.2,411.5 L522.5,411.4 L520.7,411.9 L518.7,413 L516.8,414.7 L515.1,416.8 L513.6,419.2 L512.6,421.8 L512,424.3 L512,426.6 L512.4,428.5 L513.3,430" stroke="#333" stroke-width="1.0" fill="none" />
<path d="M528.2,413.9 L526.8,413.1 L525.2,412.9 L523.3,413.4 L521.4,414.5 L519.5,416.2 L517.7,418.3 L516.3,420.8 L515.3,423.3 L514.7,425.8 L514.6,428.1 L515.1,430.1 L516,431.5" stroke="#333" stroke-width="1.0" fill="none" />
<path d="M530.8,415.4 L529.5,414.6 L527.9,414.4 L526,414.9 L524,416.1 L522.1,417.7 L520.4,419.9 L519,422.3 L517.9,424.9 L517.3,427.4 L517.3,429.7 L517.7,431.6 L518.6,433" stroke="#333" stroke-width="1.0" fill="none" />
<path d="M533.5,417 L532.2,416.1 L530.5,416 L528.6,416.5 L526.7,417.6 L524.8,419.3 L523.1,421.4 L521.6,423.8 L520.6,426.4 L520,428.9 L519.9,431.2 L520.4,433.1 L521.3,434.6" stroke="#333" stroke-width="1.0" fill="none" />
<path d="M536.2,418.5 L534.8,417.7 L533.2,417.5 L531.3,418 L529.3,419.1 L527.4,420.8 L525.7,422.9 L524.3,425.4 L523.2,427.9 L522.7,430.4 L522.6,432.7 L523,434.7 L523.9,436.1" stroke="#333" stroke-width="1.0" fill="none" />
<path d="M538.8,420 L537.5,419.2 L535.8,419 L534,419.5 L532,420.6 L530.1,422.3 L528.4,424.5 L526.9,426.9 L525.9,429.5 L525.3,432 L525.3,434.3 L525.7,436.2 L526.6,437.6" stroke="#333" stroke-width="1.0" fill="none" />
<path d="M541.5,421.6 L540.1,420.7 L538.5,420.6 L536.6,421 L534.7,422.2 L532.8,423.9 L531,426 L529.6,428.4 L528.6,431 L528,433.5 L527.9,435.8 L528.3,437.7 L529.3,439.2" stroke="#333" stroke-width="1.0" fill="none" />
<path d="M544.1,423.1 L542.8,422.3 L541.2,422.1 L539.3,422.6 L537.3,423.7 L535.4,425.4 L533.7,427.5 L532.3,430 L531.2,432.5 L530.6,435 L530.6,437.3 L531,439.3 L531.9,440.7" stroke="#333" stroke-width="1.0" fill="none" />
<path d="M546.8,424.6 L545.5,423.8 L543.8,423.6 L541.9,424.1 L540,425.2 L538.1,426.9 L536.4,429.1 L534.9,431.5 L533.9,434 L533.3,436.6 L533.2,438.9 L533.7,440.8 L534.6,442.2" stroke="#333" stroke-width="1.0" fill="none" />
<path d="M549.5,426.1 L548.1,425.3 L546.5,425.1 L544.6,425.6 L542.6,426.8 L540.7,428.5 L539,430.6 L537.6,433 L536.5,435.6 L536,438.1 L535.9,440.4 L536.3,442.3 L537.2,443.8" stroke="#333" stroke-width="1.0" fill="none" />
<path d="M552.1,427.7 L550.8,426.9 L549.1,426.7 L547.3,427.2 L545.3,428.3 L543.4,430 L541.7,432.1 L540.2,434.6 L539.2,437.1 L538.6,439.6 L538.6,441.9 L539,443.9 L539.9,445.3" stroke="#333" stroke-width="1.0" fill="none" />
<path d="M554.8,429.2 L553.4,428.4 L551.8,428.2 L549.9,428.7 L548,429.8 L546.1,431.5 L544.3,433.7 L542.9,436.1 L541.9,438.6 L541.3,441.2 L541.2,443.5 L541.6,445.4 L542.6,446.8" stroke="#333" stroke-width="1.0" fill="none" />
<path d="M557.4,430.7 L556.1,429.9 L554.4,429.7 L552.6,430.2 L550.6,431.4 L548.7,433.1 L547,435.2 L545.6,437.6 L544.5,440.2 L543.9,442.7 L543.9,445 L544.3,446.9 L545.2,448.4" stroke="#333" stroke-width="1.0" fill="none" />
<path d="M560.1,432.3 L558.8,431.4 L557.1,431.3 L555.2,431.8 L553.3,432.9 L551.4,434.6 L549.7,436.7 L548.2,439.1 L547.2,441.7 L546.6,444.2 L546.5,446.5 L547,448.5 L547.9,449.9" stroke="#333" stroke-width="1.0" fill="none" />
<path d="M562.8,433.8 L561.4,433 L559.8,432.8 L557.9,433.3 L555.9,434.4 L554,436.1 L552.3,438.3 L550.9,440.7 L549.8,443.2 L549.3,445.8 L549.2,448.1 L549.6,450 L550.5,451.4" stroke="#333" stroke-width="1.0" fill="none" />
<path d="M565.4,435.3 L564.1,434.5 L562.4,434.3 L560.6,434.8 L558.6,436 L556.7,437.7 L555,439.8 L553.5,442.2 L552.5,444.8 L551.9,447.3 L551.9,449.6 L552.3,451.5 L553.2,453" stroke="#333" stroke-width="1.0" fill="none" />
<path d="M568.1,436.9 L566.7,436 L565.1,435.9 L563.2,436.4 L561.3,437.5 L559.4,439.2 L557.6,441.3 L556.2,443.7 L555.2,446.3 L554.6,448.8 L554.5,451.1 L554.9,453.1 L555.9,454.5" stroke="#333" stroke-width="1.0" fill="none" />
<path d="M570.7,438.4 L569.4,437.6 L567.7,437.4 L565.9,437.9 L563.9,439 L562,440.7 L560.3,442.8 L558.9,445.3 L557.8,447.8 L557.2,450.4 L557.2,452.7 L557.6,454.6 L558.5,456" stroke="#333" stroke-width="1.0" fill="none" />
<path d="M573.4,439.9 L572.1,439.1 L570.4,438.9 L568.5,439.4 L566.6,440.6 L564.7,442.2 L563,444.4 L561.5,446.8 L560.5,449.4 L559.9,451.9 L559.8,454.2 L560.3,456.1 L561.2,457.5" stroke="#333" stroke-width="1.0" fill="none" />
<path d="M576.1,441.5 L574.7,440.6 L573.1,440.5 L571.2,441 L569.2,442.1 L567.3,443.8 L565.6,445.9 L564.2,448.3 L563.1,450.9 L562.6,453.4 L562.5,455.7 L562.9,457.6 L563.8,459.1" stroke="#333" stroke-width="1.0" fill="none" />
<line x1="489.8" y1="391.6" x2="578" y2="442.4" stroke="#111" stroke-width="2.3"/>
<line x1="479" y1="410.4" x2="567.2" y2="461.2" stroke="#111" stroke-width="2.3"/>
<path d="M489.8,391.6 L488.9,391.3 L487.9,391.2 L486.8,391.3 L485.7,391.7 L484.5,392.3 L483.4,393.1 L482.2,394.1 L481.1,395.3 L480.1,396.6 L479.2,398 L478.4,399.5 L477.8,401 L477.3,402.6 L477,404.1 L476.9,405.5 L477,406.8 L477.2,408 L477.7,409 L478.3,409.8 L479,410.4" stroke="#111" stroke-width="2.3" fill="none" />
<path d="M578,442.4 L578.7,443 L579.3,443.8 L579.8,444.8 L580,446 L580.1,447.3 L580,448.7 L579.7,450.2 L579.2,451.8 L578.6,453.3 L577.8,454.8 L576.9,456.2 L575.9,457.5 L574.8,458.7 L573.6,459.7 L572.5,460.5 L571.3,461.1 L570.2,461.5 L569.1,461.6 L568.1,461.5 L567.2,461.2" stroke="#111" stroke-width="2.3" fill="none" />
<path d="M601.8,460.7 L600.9,460.2 L599.9,460.2 L598.8,460.6 L597.6,461.3 L596.4,462.5 L595.4,463.8 L594.5,465.4 L593.9,467.1 L593.5,468.7 L593.5,470.1 L593.7,471.3 L594.3,472.2" stroke="#333" stroke-width="1.0" fill="none" />
<path d="M604,462 L603.2,461.5 L602.2,461.4 L601.1,461.8 L599.9,462.6 L598.7,463.7 L597.6,465.1 L596.8,466.7 L596.1,468.3 L595.8,469.9 L595.7,471.3 L596,472.6 L596.5,473.4" stroke="#333" stroke-width="1.0" fill="none" />
<path d="M606.3,463.2 L605.5,462.7 L604.5,462.7 L603.3,463 L602.1,463.8 L601,464.9 L599.9,466.3 L599,467.9 L598.4,469.5 L598,471.1 L598,472.6 L598.2,473.8 L598.8,474.7" stroke="#333" stroke-width="1.0" fill="none" />
<path d="M608.5,464.4 L607.7,464 L606.7,463.9 L605.6,464.3 L604.4,465 L603.2,466.2 L602.2,467.6 L601.3,469.1 L600.6,470.8 L600.3,472.4 L600.2,473.8 L600.5,475 L601.1,475.9" stroke="#333" stroke-width="1.0" fill="none" />
<path d="M610.8,465.7 L610,465.2 L609,465.1 L607.8,465.5 L606.7,466.3 L605.5,467.4 L604.4,468.8 L603.6,470.4 L602.9,472 L602.6,473.6 L602.5,475.1 L602.8,476.3 L603.3,477.1" stroke="#333" stroke-width="1.0" fill="none" />
<path d="M613.1,466.9 L612.3,466.4 L611.3,466.4 L610.1,466.7 L608.9,467.5 L607.8,468.6 L606.7,470 L605.8,471.6 L605.2,473.2 L604.8,474.8 L604.8,476.3 L605,477.5 L605.6,478.4" stroke="#333" stroke-width="1.0" fill="none" />
<path d="M615.3,468.2 L614.5,467.7 L613.5,467.6 L612.4,468 L611.2,468.8 L610,469.9 L609,471.3 L608.1,472.8 L607.4,474.5 L607.1,476.1 L607,477.5 L607.3,478.7 L607.8,479.6" stroke="#333" stroke-width="1.0" fill="none" />
<line x1="574.5" y1="445.7" x2="617.3" y2="469.1" stroke="#111" stroke-width="2.1"/>
<line x1="567.9" y1="457.9" x2="610.7" y2="481.3" stroke="#111" stroke-width="2.1"/>
<path d="M574.5,445.7 L574,445.6 L573.4,445.5 L572.7,445.6 L572,445.9 L571.3,446.3 L570.6,446.8 L569.9,447.5 L569.2,448.3 L568.6,449.1 L568,450.1 L567.6,451 L567.2,452 L566.9,453 L566.7,454 L566.6,454.9 L566.7,455.7 L566.8,456.4 L567.1,457 L567.4,457.5 L567.9,457.9" stroke="#111" stroke-width="2.1" fill="none" />
<path d="M617.3,469.1 L617.8,469.5 L618.1,470 L618.4,470.6 L618.5,471.3 L618.6,472.1 L618.5,473 L618.3,474 L618,475 L617.6,476 L617.2,476.9 L616.6,477.9 L616,478.7 L615.3,479.5 L614.6,480.2 L613.9,480.7 L613.2,481.1 L612.5,481.4 L611.8,481.5 L611.2,481.4 L610.7,481.3" stroke="#111" stroke-width="2.1" fill="none" />
<line x1="615.5" y1="475.8" x2="640" y2="489" stroke="#111" stroke-width="1.0"/>
<polygon points="643.1,465.2 640.9,464.6 638.7,464.4 636.3,464.5 633.9,465.1 631.5,466.1 629.1,467.5 626.8,469.2 624.6,471.3 622.6,473.6 620.7,476.3 619.1,479.1 617.8,482.1 616.7,485.1 615.9,488.3 615.4,491.5 615.2,494.6 615.3,497.6 615.8,500.4 616.5,503 617.6,505.4 618.9,507.5 620.5,509.3 622.3,510.7 624.3,511.8 638,517.6 640.2,518.2 642.4,518.4 644.8,518.3 647.2,517.7 649.6,516.7 652,515.3 654.3,513.6 656.5,511.5 658.5,509.2 660.4,506.5 662,503.7 663.3,500.7 664.4,497.7 665.2,494.5 665.7,491.3 665.9,488.2 665.8,485.2 665.3,482.4 664.6,479.8 663.5,477.4 662.2,475.3 660.6,473.5 658.8,472.1 656.8,471" fill="#fff" stroke="none"/>
<path d="M643.1,465.2 L641.4,464.7 L639.6,464.4 L637.7,464.4 L635.8,464.6 L633.9,465.1 L631.9,465.9 L630,466.9 L628.1,468.1 L626.3,469.6 L624.6,471.3 L623,473.1 L621.4,475.2 L620.1,477.4 L618.8,479.7 L617.8,482.1 L616.9,484.5 L616.1,487 L615.6,489.6 L615.3,492.1 L615.2,494.6 L615.3,497 L615.6,499.3 L616,501.5 L616.7,503.5 L617.6,505.4 L618.6,507.1 L619.8,508.6 L621.2,509.9 L622.7,511 L624.3,511.8" stroke="#111" stroke-width="2.2" fill="none" />
<line x1="643.1" y1="465.2" x2="656.8" y2="471" stroke="#111" stroke-width="2.2"/>
<line x1="624.3" y1="511.8" x2="638" y2="517.6" stroke="#111" stroke-width="2.2"/>
<path d="M644.2,466 L642.5,465.9 L640.8,465.9 L639,466.2 L637.2,466.7 L635.5,467.4 L633.7,468.4 L632,469.5 L630.3,470.8 L628.7,472.3 L627.1,474 L625.7,475.8 L624.4,477.7 L623.1,479.8 L622.1,481.9 L621.1,484.2 L620.3,486.4 L619.7,488.8 L619.2,491.1 L618.9,493.4 L618.8,495.7 L618.8,497.9 L619,500.1 L619.4,502.1 L620,504.1 L620.7,505.9 L621.5,507.6 L622.5,509.1 L623.7,510.4 L625,511.6 L626.4,512.5" stroke="#111" stroke-width="0.8" fill="none" />
<path d="M653.9,469.8 L652.2,469.1 L650.5,468.7 L648.6,468.6 L646.7,468.7 L644.8,469.1 L642.9,469.7 L640.9,470.6 L639,471.7 L637.2,473.1 L635.4,474.7 L633.7,476.5 L632.1,478.4 L630.7,480.5 L629.4,482.8 L628.2,485.1 L627.3,487.6 L626.5,490.1 L625.9,492.6 L625.4,495.1 L625.2,497.6 L625.2,500.1 L625.4,502.4 L625.8,504.7 L626.4,506.8 L627.1,508.8 L628.1,510.6 L629.2,512.2 L630.5,513.6 L632,514.7 L633.5,515.7" stroke="#111" stroke-width="2.1" fill="none" />
<path d="M656.8,471 L658.4,471.8 L659.9,472.9 L661.3,474.2 L662.5,475.7 L663.5,477.4 L664.4,479.3 L665.1,481.3 L665.5,483.5 L665.8,485.8 L665.9,488.2 L665.8,490.7 L665.5,493.2 L665,495.8 L664.2,498.3 L663.3,500.7 L662.3,503.1 L661,505.4 L659.7,507.6 L658.1,509.7 L656.5,511.5 L654.8,513.2 L653,514.7 L651.1,515.9 L649.2,516.9 L647.2,517.7 L645.3,518.2 L643.4,518.4 L641.5,518.4 L639.7,518.1 L638,517.6" stroke="#111" stroke-width="2.2" fill="none" />
<path d="M656.8,471 L655.1,470.5 L653.3,470.2 L651.4,470.2 L649.5,470.4 L647.6,470.9 L645.6,471.7 L643.7,472.7 L641.8,473.9 L640,475.4 L638.3,477.1 L636.7,478.9 L635.1,481 L633.8,483.2 L632.5,485.5 L631.5,487.9 L630.6,490.3 L629.8,492.8 L629.3,495.4 L629,497.9 L628.9,500.4 L629,502.8 L629.3,505.1 L629.7,507.3 L630.4,509.3 L631.3,511.2 L632.3,512.9 L633.5,514.4 L634.9,515.7 L636.4,516.8 L638,517.6" stroke="#111" stroke-width="0.9" fill="none" />
<path d="M652.2,494.5 L652.3,493.1 L652.1,491.9 L651.8,490.8 L651.2,489.9 L650.5,489.3 L649.6,488.9 L648.6,488.9 L647.6,489.2 L646.5,489.7 L645.6,490.5 L644.7,491.6 L644,492.8 L643.4,494.2 L643,495.5 L642.9,496.9 L643,498.2 L643.3,499.3 L643.8,500.3 L644.5,501 L645.4,501.4 L646.3,501.5 L647.3,501.3 L648.4,500.9 L649.4,500.1" stroke="#111" stroke-width="1.9" fill="none" />
<line x1="646.6" y1="493.6" x2="664" y2="503.2" stroke="#111" stroke-width="1.0"/>
<polygon points="699.1,486.8 696.3,485.5 693.3,484.6 690.1,484.3 686.8,484.5 683.4,485.2 680.1,486.4 676.8,488 673.6,490.1 670.6,492.6 667.8,495.4 665.3,498.6 663.1,502 661.2,505.6 659.7,509.4 658.6,513.2 658,517.1 657.8,520.9 658,524.6 658.7,528.1 659.8,531.3 661.3,534.2 663.1,536.8 665.4,539 667.9,540.8 685,550.2 687.8,551.5 690.8,552.4 694,552.7 697.3,552.5 700.7,551.8 704,550.6 707.3,549 710.5,546.9 713.5,544.4 716.3,541.6 718.8,538.4 721,535 722.9,531.4 724.4,527.6 725.5,523.8 726.1,519.9 726.3,516.1 726.1,512.4 725.4,508.9 724.3,505.7 722.8,502.8 721,500.2 718.7,498 716.2,496.2" fill="#fff" stroke="none"/>
<path d="M699.1,486.8 L696.9,485.7 L694.5,484.9 L692,484.5 L689.4,484.3 L686.8,484.5 L684.1,485 L681.4,485.8 L678.7,487 L676.1,488.4 L673.6,490.1 L671.2,492 L668.9,494.2 L666.8,496.6 L664.8,499.2 L663.1,502 L661.5,504.9 L660.3,507.9 L659.2,510.9 L658.5,514 L658,517.1 L657.8,520.1 L657.9,523.1 L658.2,526 L658.9,528.7 L659.8,531.3 L660.9,533.7 L662.3,535.9 L664,537.8 L665.8,539.4 L667.9,540.8" stroke="#111" stroke-width="2.2" fill="none" />
<line x1="699.1" y1="486.8" x2="716.2" y2="496.2" stroke="#111" stroke-width="2.2"/>
<line x1="667.9" y1="540.8" x2="685" y2="550.2" stroke="#111" stroke-width="2.2"/>
<line x1="692.5" y1="486" x2="697.3" y2="488.5" stroke="#333" stroke-width="0.8"/>
<line x1="688.8" y1="486" x2="692.2" y2="487.8" stroke="#333" stroke-width="0.8"/>
<line x1="685" y1="486.8" x2="689.9" y2="489.4" stroke="#333" stroke-width="0.8"/>
<line x1="681.2" y1="488.2" x2="684.6" y2="490" stroke="#333" stroke-width="0.8"/>
<line x1="677.5" y1="490.2" x2="682.4" y2="492.8" stroke="#333" stroke-width="0.8"/>
<line x1="674" y1="492.7" x2="677.3" y2="494.5" stroke="#333" stroke-width="0.8"/>
<line x1="670.7" y1="495.8" x2="675.6" y2="498.4" stroke="#333" stroke-width="0.8"/>
<line x1="667.8" y1="499.3" x2="671.1" y2="501.1" stroke="#333" stroke-width="0.8"/>
<line x1="665.3" y1="503.2" x2="670.1" y2="505.8" stroke="#333" stroke-width="0.8"/>
<line x1="663.2" y1="507.3" x2="666.5" y2="509.1" stroke="#333" stroke-width="0.8"/>
<line x1="661.6" y1="511.6" x2="666.4" y2="514.2" stroke="#333" stroke-width="0.8"/>
<line x1="660.6" y1="516" x2="663.9" y2="517.8" stroke="#333" stroke-width="0.8"/>
<line x1="660.1" y1="520.3" x2="664.9" y2="522.9" stroke="#333" stroke-width="0.8"/>
<line x1="660.2" y1="524.6" x2="663.6" y2="526.3" stroke="#333" stroke-width="0.8"/>
<line x1="660.9" y1="528.5" x2="665.8" y2="531.1" stroke="#333" stroke-width="0.8"/>
<line x1="662.2" y1="532.2" x2="665.5" y2="534" stroke="#333" stroke-width="0.8"/>
<line x1="664" y1="535.4" x2="668.8" y2="538" stroke="#333" stroke-width="0.8"/>
<ellipse cx="700.6" cy="523.2" rx="23.6" ry="31.2" transform="rotate(30 700.6 523.2)" stroke="#111" stroke-width="2.2" fill="#fff"/>
<path d="M724.9,505.9 L723.3,504 L721.4,502.5 L719.4,501.3 L717.1,500.5 L714.7,500.1 L712.2,500 L709.6,500.4 L706.9,501.1 L704.3,502.1 L701.6,503.5 L699.1,505.3 L696.7,507.3 L694.4,509.7 L692.2,512.2 L690.3,515 L688.7,517.9 L687.3,521 L686.2,524.1 L685.3,527.3 L684.8,530.4 L684.7,533.5 L684.8,536.4 L685.3,539.2 L686,541.9 L687.1,544.2 L688.5,546.3 L690.1,548.2 L692,549.6 L694.1,550.8 L696.3,551.5" stroke="#111" stroke-width="2.0" fill="none" />
<path d="M719.8,503.1 L722.1,504.9 L724.1,507.1 L725.6,509.8 L726.6,512.9 L727.2,516.3 L727.3,520 L726.8,523.8 L725.8,527.7 L724.4,531.5 L722.5,535.2 L720.3,538.7 L717.7,541.8 L714.8,544.6 L711.7,546.9 L708.5,548.7 L705.3,549.9 L702.1,550.5 L699,550.6 L696.1,550 L693.4,548.9 L691.1,547.1 L689.1,544.9 L687.6,542.2 L686.6,539.1 L686,535.7 L685.9,532 L686.4,528.2 L687.4,524.3 L688.8,520.5 L690.7,516.8 L692.9,513.3 L695.5,510.2 L698.4,507.4 L701.5,505.1 L704.7,503.3 L707.9,502.1 L711.1,501.5 L714.2,501.4 L717.1,502 L719.8,503.1" stroke="#111" stroke-width="0.8" fill="none" />
<line x1="712.6" y1="495.7" x2="717.8" y2="500.6" stroke="#222" stroke-width="1.0"/>
<line x1="708.7" y1="494.8" x2="714.4" y2="500" stroke="#222" stroke-width="1.0"/>
<line x1="704.6" y1="494.8" x2="710.7" y2="500.1" stroke="#222" stroke-width="1.0"/>
<line x1="700.3" y1="495.7" x2="706.9" y2="500.9" stroke="#222" stroke-width="1.0"/>
<line x1="696" y1="497.4" x2="703.1" y2="502.6" stroke="#222" stroke-width="1.0"/>
<line x1="691.9" y1="499.8" x2="699.4" y2="504.9" stroke="#222" stroke-width="1.0"/>
<line x1="688.1" y1="503" x2="696" y2="507.9" stroke="#222" stroke-width="1.0"/>
<line x1="684.6" y1="506.7" x2="692.8" y2="511.4" stroke="#222" stroke-width="1.0"/>
<line x1="681.6" y1="511" x2="690" y2="515.3" stroke="#222" stroke-width="1.0"/>
<line x1="679.1" y1="515.6" x2="687.8" y2="519.6" stroke="#222" stroke-width="1.0"/>
<line x1="677.3" y1="520.5" x2="686.1" y2="524" stroke="#222" stroke-width="1.0"/>
<line x1="676.2" y1="525.4" x2="685" y2="528.5" stroke="#222" stroke-width="1.0"/>
<line x1="675.9" y1="530.3" x2="684.6" y2="533" stroke="#222" stroke-width="1.0"/>
<line x1="676.3" y1="534.9" x2="684.8" y2="537.2" stroke="#222" stroke-width="1.0"/>
<line x1="677.4" y1="539.2" x2="685.7" y2="541.1" stroke="#222" stroke-width="1.0"/>
<line x1="679.2" y1="543" x2="687.2" y2="544.5" stroke="#222" stroke-width="1.0"/>
<line x1="681.6" y1="546.3" x2="689.3" y2="547.4" stroke="#222" stroke-width="1.0"/>
<line x1="684.6" y1="548.8" x2="691.9" y2="549.7" stroke="#222" stroke-width="1.0"/>
<line x1="688.1" y1="550.6" x2="694.9" y2="551.2" stroke="#222" stroke-width="1.0"/>
<line x1="692" y1="551.5" x2="698.3" y2="552" stroke="#222" stroke-width="1.0"/>
<path d="M709.5,544.7 L706.9,546.3 L704.2,547.6 L701.6,548.5 L699,548.8 L696.5,548.8 L694.1,548.2 L692,547.2 L690.2,545.7 L688.6,543.9 L687.4,541.7 L686.5,539.1 L686,536.3 L685.9,533.3 L686.2,530.2 L686.8,527 L687.8,523.7 L689.2,520.5 L690.9,517.5 L692.8,514.6 L695,512 L697.4,509.6 L700,507.7 L702.6,506.1 L705.3,504.9 L708,504.2 L710.5,503.9 L713,504.1 L715.3,504.8 L717.3,506 L719.1,507.5 L720.6,509.5 L721.7,511.8 L722.5,514.4 L722.9,517.2 L722.9,520.3 L722.5,523.5 L721.8,526.7 L720.6,530 L719.2,533.1 L717.4,536.1" stroke="#111" stroke-width="2.1" fill="none" />
<line x1="696.5" y1="524.4" x2="725.4" y2="540.5" stroke="#111" stroke-width="1.0"/>
<path d="M727.1,509.1 Q733,499.5 744.8,495.1 Q750,493.8 756.8,497.1 Q763.5,501 767.7,509.1" stroke="#111" stroke-width="1.9" fill="none" />
<path d="M732.3,516.8 Q736,509.5 741,505.2 Q748.5,499 756.8,497.9" stroke="#111" stroke-width="1.9" fill="none" />
<line x1="727.1" y1="512.8" x2="732.3" y2="516.8" stroke="#111" stroke-width="1.9"/>
<path d="M726,538 Q735,527 745,521 Q753,519 757,520.5 Q768,514 777,513 Q786,514 799,522 Q811,530 815,543 L814.6,555 Q811,573 801.4,591 Q787,605.4 772.6,614 L765.4,615 Q745,608 734.2,600.6 Q728,592 727,576 Q720,569 719.8,557 Q721,546 726,538 Z" fill="#fff" stroke="none"/>
<path d="M726,538 Q735,527 745,521 Q753,519 757,520.5" stroke="#111" stroke-width="2.1" fill="none" />
<path d="M726,538 Q720.5,546 719.8,557 Q719.8,569 725.8,575.4" stroke="#111" stroke-width="2.1" fill="none" />
<path d="M757,520.5 Q744,530 736,546 Q727.5,562 727,577 Q727,592 734.2,600.6 Q743,608 755.8,612.6 Q766,615.5 772.6,614.4" stroke="#111" stroke-width="2.2" fill="none" />
<path d="M757,520.5 Q768,513.5 777,513 Q786,513.5 799,521.5 L805,525 Q811,530 814,539 L815,543" stroke="#111" stroke-width="2.2" fill="none" />
<path d="M815,543 Q815.5,560 811,573 Q806,585 801.4,591 Q795,599 787,605.4 Q779,611 772.6,614" stroke="#111" stroke-width="1.3" fill="none" />
<path d="M780,528.5 Q789,524.5 798,523" stroke="#333" stroke-width="0.9" fill="none" />
<path d="M769,545 Q777,536 791,530 Q801,528 808,532 Q812,535 814,539" stroke="#333" stroke-width="0.9" fill="none" />
<path d="M754.6,555 Q747,567 745.5,577 Q743,591 748.6,605.4 Q752.5,611 759.4,612.6" stroke="#333" stroke-width="0.9" fill="none" />
<path d="M754.6,570.6 Q751,580 750.6,590 Q751,600 755.8,606.6" stroke="#333" stroke-width="0.9" fill="none" />
<path d="M773.2,591.1 L771.9,590 L770.7,588.8 L769.7,587.3 L768.8,585.7 L768.1,584 L767.6,582.1 L767.2,580.1 L767.1,578 L767.1,575.8 L767.3,573.6 L767.7,571.4 L768.3,569.2 L769,567 L769.9,564.9 L771,562.8 L772.2,560.9 L773.5,559.1 L774.9,557.5 L776.5,556 L778.1,554.7 L779.8,553.6 L781.5,552.7 L783.2,552 L785,551.6 L786.7,551.4 L788.4,551.4 L790,551.7 L791.5,552.2 L793,552.9 L794.4,553.9" stroke="#111" stroke-width="2.1" fill="none" />
<path d="M789.4,589.2 L787.9,590.3 L786.5,591.1 L785,591.9 L783.5,592.4 L782,592.8 L780.5,593 L779.1,593 L777.6,592.9 L776.3,592.6 L775,592.1 L773.7,591.4 L772.5,590.6" stroke="#111" stroke-width="1.1" fill="none" />
<path d="M793.7,553.4 L794.9,554.4 L796,555.5 L797,556.8 L797.8,558.3 L798.5,559.9 L799,561.6 L799.4,563.4 L799.7,565.4 L799.7,567.3 L799.6,569.3 L799.4,571.4 L799,573.5 L798.4,575.5 L797.8,577.5" stroke="#111" stroke-width="1.1" fill="none" />
<path d="M786,582.3 L784.3,583.7 L782.6,584.9 L780.8,585.6 L779,586.1 L777.3,586.2 L775.6,585.9 L774.1,585.3 L772.7,584.3 L771.5,583.1 L770.5,581.5 L769.8,579.7 L769.3,577.7 L769.1,575.5 L769.1,573.3 L769.4,570.9 L770,568.6 L770.9,566.3 L771.9,564.1 L773.2,562.1 L774.6,560.3 L776.2,558.7 L777.9,557.4 L779.7,556.4 L781.5,555.7 L783.2,555.4 L785,555.5 L786.6,555.9 L788.1,556.6 L789.4,557.7 L790.5,559.1 L791.4,560.7 L792,562.6 L792.4,564.7 L792.5,566.9 L792.4,569.2 L792,571.5" stroke="#111" stroke-width="2.0" fill="none" />
<path d="M782.3,577.3 L781.3,577.9 L780.3,578.4 L779.3,578.6 L778.3,578.5 L777.4,578.3 L776.5,577.8 L775.8,577.1 L775.2,576.3 L774.8,575.2 L774.5,574.1 L774.4,572.8 L774.5,571.5 L774.8,570.1 L775.2,568.8 L775.8,567.5 L776.5,566.3 L777.3,565.3 L778.2,564.3 L779.2,563.6 L780.2,563 L781.2,562.7 L782.2,562.6 L783.2,562.8 L784,563.1 L784.8,563.7 L785.5,564.4 L786,565.4 L786.3,566.5 L786.5,567.7 L786.5,569" stroke="#111" stroke-width="1.9" fill="none" />
<line x1="789.8" y1="512" x2="789.8" y2="543" stroke="#5e5e5e" stroke-width="1.0"/>
<line x1="780.5" y1="570.4" x2="805.7" y2="584.8" stroke="#111" stroke-width="1.0"/>
<path d="M803.5,538 Q799.5,538.5 798.6,542 Q798.5,546 801.5,546.2" stroke="#111" stroke-width="1.8" fill="none" />
<ellipse cx="801.5" cy="541.8" rx="2.3" ry="3.6" transform="rotate(20 801.5 541.8)" stroke="#111" stroke-width="0.9" fill="none"/>
<line x1="802" y1="542" x2="823" y2="554.8" stroke="#111" stroke-width="1.0"/>
<path d="M806.6,591.7 Q808,584 812.1,580.3 Q816,577.5 820.5,577.3 Q825,577.8 828.3,581.5 L829.6,583.9 Q834,587 835.6,592 Q836.8,598 833.8,601.4 Q830.5,605.5 825.9,605.6 Q821,605.6 818.8,604.4 L816.3,603.8 L810.2,600.6 Q806.5,597.5 806.6,591.7 Z" stroke="#111" stroke-width="2.0" fill="#fff" />
<path d="M828.6,582.6 Q822,583 820.3,584.6 Q816.5,588.5 815.3,593.8 Q814.8,599 815.8,603.6" stroke="#111" stroke-width="1.0" fill="none" />
<path d="M815.1,581.2 L820.3,584.4 M807.2,592.3 L814.9,595.0" stroke="#111" stroke-width="0.8" fill="none" />
<line x1="823.3" y1="597.7" x2="823.3" y2="606" stroke="#5e5e5e" stroke-width="1.0"/>
<line x1="834.6" y1="551.9" x2="847.4" y2="558.8" stroke="#111" stroke-width="2.0"/>
<line x1="826.8" y1="566.3" x2="839.6" y2="573.2" stroke="#111" stroke-width="2.0"/>
<path d="M834.6,551.9 L833.9,551.6 L833,551.5 L832.2,551.6 L831.3,551.9 L830.3,552.3 L829.4,552.9 L828.5,553.7 L827.7,554.6 L827,555.6 L826.3,556.7 L825.7,557.9 L825.3,559.1 L825,560.3 L824.9,561.4 L824.8,562.5 L825,563.5 L825.2,564.5 L825.6,565.2 L826.2,565.9 L826.8,566.3" stroke="#111" stroke-width="2.0" fill="none" />
<polygon points="849.8,558.6 848.9,558.3 847.9,558.1 846.8,558.2 845.6,558.5 844.5,559 843.3,559.8 842.2,560.7 841.2,561.8 840.2,563 839.4,564.3 838.7,565.7 838.2,567.2 837.8,568.6 837.6,570 837.6,571.4 837.8,572.7 838.1,573.8 838.7,574.8 839.3,575.6 840.2,576.2 876.4,596.2 877.3,596.5 878.3,596.7 879.4,596.6 880.6,596.3 881.7,595.8 882.9,595 884,594.1 885,593 886,591.8 886.8,590.5 887.5,589.1 888,587.6 888.4,586.2 888.6,584.8 888.6,583.4 888.4,582.1 888.1,581 887.5,580 886.9,579.2 886,578.6" fill="#fff" stroke="none"/>
<line x1="849.8" y1="558.6" x2="886" y2="578.6" stroke="#111" stroke-width="2.1"/>
<line x1="840.2" y1="576.2" x2="876.4" y2="596.2" stroke="#111" stroke-width="2.1"/>
<path d="M849.8,558.6 L848.9,558.3 L847.9,558.1 L846.8,558.2 L845.6,558.5 L844.5,559 L843.3,559.8 L842.2,560.7 L841.2,561.8 L840.2,563 L839.4,564.3 L838.7,565.7 L838.2,567.2 L837.8,568.6 L837.6,570 L837.6,571.4 L837.8,572.7 L838.1,573.8 L838.7,574.8 L839.3,575.6 L840.2,576.2" stroke="#111" stroke-width="2.1" fill="none" />
<ellipse cx="881.2" cy="587.4" rx="6.4" ry="10" transform="rotate(28.9 881.2 587.4)" stroke="#111" stroke-width="2.1" fill="none"/>
<path d="M885.5,580.8 L886.4,581.5 L887.2,582.6 L887.7,583.8 L888,585.2 L887.9,586.7 L887.6,588.3 L887.1,589.9 L886.2,591.3 L885.2,592.6 L884.1,593.7 L882.8,594.6 L881.4,595.1 L880.1,595.3 L878.9,595.2 L877.7,594.8 L876.8,594.1 L876,593 L875.5,591.8 L875.2,590.4 L875.3,588.9 L875.6,587.3 L876.1,585.7 L877,584.3 L878,583 L879.1,581.9 L880.4,581 L881.8,580.5 L883.1,580.3 L884.3,580.4 L885.5,580.8" stroke="#111" stroke-width="1.7" fill="none" />
<path d="M874.2,589.2 L874.3,588 L874.5,586.8 L874.9,585.6 L875.5,584.4 L876.1,583.3 L876.9,582.3 L877.8,581.4 L878.7,580.6 L879.7,580 L880.7,579.5 L881.7,579.2 L882.7,579.1" stroke="#111" stroke-width="0.8" fill="none" />
<line x1="861.4" y1="565.5" x2="861.4" y2="573.2" stroke="#5e5e5e" stroke-width="1.0"/>
<line x1="823" y1="554.8" x2="826.5" y2="556.8" stroke="#111" stroke-width="1.0"/>
<path d="M899.6,594.5 L899.1,594.2 L898.4,594.2 L897.7,594.4 L896.9,594.8 L896.2,595.5 L895.5,596.4 L894.9,597.3 L894.5,598.4 L894.3,599.4 L894.3,600.3 L894.5,601 L894.9,601.6" stroke="#333" stroke-width="0.85" fill="none" />
<path d="M902,595.8 L901.4,595.5 L900.8,595.4 L900,595.7 L899.2,596.1 L898.5,596.8 L897.8,597.7 L897.3,598.6 L896.9,599.6 L896.6,600.7 L896.6,601.6 L896.8,602.3 L897.2,602.9" stroke="#333" stroke-width="0.85" fill="none" />
<path d="M904.3,597.1 L903.7,596.8 L903.1,596.7 L902.3,596.9 L901.6,597.4 L900.8,598.1 L900.1,598.9 L899.6,599.9 L899.2,600.9 L899,601.9 L898.9,602.9 L899.1,603.6 L899.5,604.2" stroke="#333" stroke-width="0.85" fill="none" />
<path d="M906.6,598.4 L906.1,598.1 L905.4,598 L904.7,598.2 L903.9,598.7 L903.1,599.4 L902.4,600.2 L901.9,601.2 L901.5,602.2 L901.3,603.2 L901.3,604.2 L901.4,604.9 L901.8,605.5" stroke="#333" stroke-width="0.85" fill="none" />
<path d="M908.9,599.7 L908.4,599.4 L907.7,599.3 L907,599.5 L906.2,600 L905.4,600.7 L904.8,601.5 L904.2,602.5 L903.8,603.5 L903.6,604.5 L903.6,605.4 L903.8,606.2 L904.1,606.8" stroke="#333" stroke-width="0.85" fill="none" />
<path d="M911.2,601 L910.7,600.7 L910,600.6 L909.3,600.8 L908.5,601.3 L907.8,602 L907.1,602.8 L906.5,603.8 L906.1,604.8 L905.9,605.8 L905.9,606.7 L906.1,607.5 L906.5,608.1" stroke="#333" stroke-width="0.85" fill="none" />
<path d="M913.5,602.3 L913,602 L912.3,601.9 L911.6,602.1 L910.8,602.6 L910.1,603.3 L909.4,604.1 L908.8,605.1 L908.4,606.1 L908.2,607.1 L908.2,608 L908.4,608.8 L908.8,609.4" stroke="#333" stroke-width="0.85" fill="none" />
<path d="M915.9,603.6 L915.3,603.3 L914.7,603.2 L913.9,603.4 L913.1,603.9 L912.4,604.5 L911.7,605.4 L911.2,606.4 L910.8,607.4 L910.5,608.4 L910.5,609.3 L910.7,610.1 L911.1,610.7" stroke="#333" stroke-width="0.85" fill="none" />
<path d="M918.2,604.9 L917.6,604.5 L917,604.5 L916.2,604.7 L915.5,605.2 L914.7,605.8 L914,606.7 L913.5,607.7 L913.1,608.7 L912.9,609.7 L912.8,610.6 L913,611.4 L913.4,611.9" stroke="#333" stroke-width="0.85" fill="none" />
<path d="M920.5,606.2 L919.9,605.8 L919.3,605.8 L918.5,606 L917.8,606.4 L917,607.1 L916.3,608 L915.8,609 L915.4,610 L915.2,611 L915.2,611.9 L915.3,612.7 L915.7,613.2" stroke="#333" stroke-width="0.85" fill="none" />
<path d="M922.8,607.5 L922.3,607.1 L921.6,607.1 L920.9,607.3 L920.1,607.7 L919.3,608.4 L918.7,609.3 L918.1,610.2 L917.7,611.3 L917.5,612.3 L917.5,613.2 L917.7,614 L918,614.5" stroke="#333" stroke-width="0.85" fill="none" />
<path d="M925.1,608.7 L924.6,608.4 L923.9,608.4 L923.2,608.6 L922.4,609 L921.6,609.7 L921,610.6 L920.4,611.5 L920,612.6 L919.8,613.6 L919.8,614.5 L920,615.3 L920.3,615.8" stroke="#333" stroke-width="0.85" fill="none" />
<line x1="896" y1="592.4" x2="940.1" y2="617" stroke="#111" stroke-width="1.9"/>
<line x1="891.8" y1="600" x2="935.9" y2="624.6" stroke="#111" stroke-width="1.9"/>
<path d="M896,592.4 L895.6,592.3 L895.2,592.3 L894.8,592.3 L894.4,592.5 L893.9,592.7 L893.4,593 L893,593.5 L892.6,593.9 L892.2,594.5 L891.8,595 L891.5,595.6 L891.3,596.2 L891.1,596.9 L891,597.5 L890.9,598 L891,598.6 L891.1,599 L891.3,599.4 L891.5,599.7 L891.8,600" stroke="#111" stroke-width="1.9" fill="none" />
<polygon points="940.6,613.8 939.9,613.5 939.2,613.4 938.4,613.4 937.6,613.6 936.8,614 936,614.4 935.2,615.1 934.4,615.8 933.8,616.6 933.2,617.5 932.7,618.5 932.3,619.5 932.1,620.5 932,621.5 932,622.4 932.1,623.3 932.4,624.1 932.7,624.8 933.2,625.4 933.8,625.8 938.4,628.4 939.1,628.7 939.8,628.8 940.6,628.8 941.4,628.6 942.2,628.2 943,627.8 943.8,627.1 944.6,626.4 945.2,625.6 945.8,624.7 946.3,623.7 946.7,622.7 946.9,621.7 947,620.7 947,619.8 946.9,618.9 946.6,618.1 946.3,617.4 945.8,616.8 945.2,616.4" fill="#fff" stroke="none"/>
<line x1="940.6" y1="613.8" x2="945.2" y2="616.4" stroke="#111" stroke-width="1.9"/>
<line x1="933.8" y1="625.8" x2="938.4" y2="628.4" stroke="#111" stroke-width="1.9"/>
<path d="M940.6,613.8 L939.9,613.5 L939.2,613.4 L938.4,613.4 L937.6,613.6 L936.8,614 L936,614.4 L935.2,615.1 L934.4,615.8 L933.8,616.6 L933.2,617.5 L932.7,618.5 L932.3,619.5 L932.1,620.5 L932,621.5 L932,622.4 L932.1,623.3 L932.4,624.1 L932.7,624.8 L933.2,625.4 L933.8,625.8" stroke="#111" stroke-width="1.9" fill="none" />
<ellipse cx="941.8" cy="622.4" rx="4.6" ry="6.9" transform="rotate(29.5 941.8 622.4)" stroke="#111" stroke-width="1.9" fill="none"/>
<polygon points="939.5,620.1 942.1,618.1 944.8,620.1 944.7,624.1 942,626.1 939.4,624.1" stroke="#111" stroke-width="0.9" fill="none" stroke-linejoin="round"/>
<line x1="638.9" y1="462" x2="638.9" y2="477" stroke="#5e5e5e" stroke-width="1.0"/>
<line x1="688.2" y1="480" x2="688.2" y2="504" stroke="#5e5e5e" stroke-width="1.0"/>
</svg></body></html>
